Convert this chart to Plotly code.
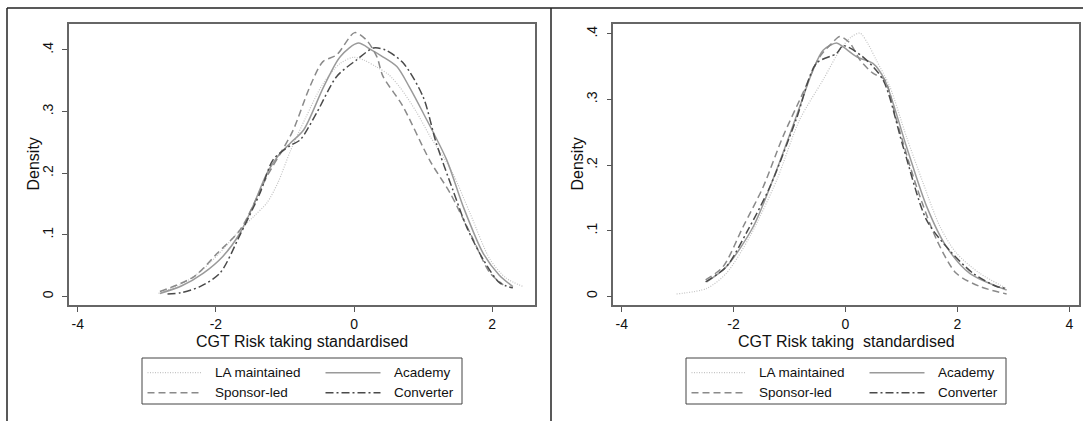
import plotly.graph_objects as go

# ---- density curves, left panel ----
la_l_x = [-2.83, -2.5, -2.23, -1.95, -1.65, -1.45, -1.26, -1.1, -0.925, -0.7, -0.45, -0.2, -0.01, 0.15, 0.33, 0.5, 0.66, 0.9, 1.10, 1.3, 1.43, 1.68, 1.97, 2.2, 2.45]
la_l_y = [0.005, 0.02, 0.04, 0.07, 0.108, 0.13, 0.152, 0.185, 0.235, 0.29, 0.345, 0.378, 0.388, 0.383, 0.372, 0.36, 0.34, 0.30, 0.26, 0.225, 0.20, 0.135, 0.06, 0.03, 0.016]

ac_l_x = [-2.81, -2.5, -2.18, -1.9, -1.65, -1.45, -1.26, -1.1, -0.92, -0.73, -0.44, -0.2, 0.06, 0.25, 0.4, 0.62, 0.8, 1.0, 1.34, 1.58, 1.87, 2.1, 2.30]
ac_l_y = [0.005, 0.017, 0.038, 0.065, 0.103, 0.15, 0.2, 0.228, 0.249, 0.27, 0.34, 0.389, 0.411, 0.40, 0.39, 0.373, 0.34, 0.298, 0.222, 0.146, 0.07, 0.035, 0.016]

sp_l_x = [-2.81, -2.32, -1.98, -1.65, -1.45, -1.26, -1.05, -0.88, -0.64, -0.45, -0.25, 0.01, 0.18, 0.33, 0.42, 0.7, 1.10, 1.39, 1.68, 1.97, 2.16]
sp_l_y = [0.008, 0.032, 0.07, 0.108, 0.15, 0.195, 0.235, 0.27, 0.34, 0.381, 0.392, 0.428, 0.416, 0.389, 0.357, 0.31, 0.22, 0.168, 0.103, 0.038, 0.019]

cv_l_x = [-2.7, -2.51, -2.23, -1.94, -1.65, -1.36, -1.17, -0.92, -0.78, -0.54, -0.25, 0.04, 0.28, 0.45, 0.71, 1.0, 1.19, 1.43, 1.63, 1.87, 2.11, 2.30]
cv_l_y = [0.004, 0.006, 0.016, 0.038, 0.1, 0.168, 0.222, 0.245, 0.254, 0.298, 0.357, 0.384, 0.403, 0.40, 0.379, 0.324, 0.249, 0.173, 0.113, 0.06, 0.022, 0.014]

# ---- density curves, right panel ----
la_r_x = [-3.02, -2.48, -2.13, -1.71, -1.23, -0.82, -0.40, -0.10, 0.1, 0.26, 0.4, 0.55, 0.79, 1.09, 1.39, 1.69, 1.98, 2.40, 2.88]
la_r_y = [0.0035, 0.012, 0.035, 0.091, 0.177, 0.269, 0.33, 0.375, 0.395, 0.401, 0.385, 0.36, 0.32, 0.243, 0.172, 0.106, 0.066, 0.035, 0.012]

ac_r_x = [-2.48, -2.13, -1.65, -1.23, -0.88, -0.58, -0.40, -0.16, -0.04, 0.2, 0.49, 0.70, 1.09, 1.45, 1.80, 2.22, 2.88]
ac_r_y = [0.022, 0.045, 0.106, 0.193, 0.274, 0.345, 0.375, 0.386, 0.38, 0.365, 0.355, 0.33, 0.228, 0.137, 0.076, 0.035, 0.0096]

sp_r_x = [-2.5, -2.19, -1.83, -1.47, -1.12, -0.76, -0.46, -0.25, -0.1, 0.08, 0.26, 0.49, 0.70, 0.91, 1.27, 1.63, 1.98, 2.40, 2.88]
sp_r_y = [0.025, 0.045, 0.106, 0.167, 0.243, 0.31, 0.365, 0.385, 0.396, 0.386, 0.36, 0.34, 0.33, 0.269, 0.167, 0.086, 0.035, 0.015, 0.0035]

cv_r_x = [-2.5, -2.13, -1.75, -1.35, -0.88, -0.52, -0.16, -0.04, 0.31, 0.67, 1.03, 1.45, 1.86, 2.28, 2.70, 2.88]
cv_r_y = [0.022, 0.045, 0.1, 0.167, 0.27, 0.355, 0.37, 0.382, 0.365, 0.33, 0.228, 0.116, 0.07, 0.035, 0.015, 0.012]

series_names = ["LA maintained", "Academy", "Sponsor-led", "Converter"]
x_title_left = "CGT Risk taking standardised"
x_title_right = "CGT Risk taking  standardised"
y_title = "Density"
y_tickvals = [0, 0.1, 0.2, 0.3, 0.4]
y_ticktext = ["0", ".1", ".2", ".3", ".4"]
x_ticks_left = [-4, -2, 0, 2]
x_ticks_right = [-4, -2, 0, 2, 4]

W, H = 1083, 421
FONT = "Liberation Sans, Arial, Helvetica, sans-serif"

styles = {
    "LA maintained": dict(color="#c4c4c4", width=1.2, dash="1px,1.5px"),
    "Academy": dict(color="#9a9a9a", width=1.5, dash="solid"),
    "Sponsor-led": dict(color="#8a8a8a", width=1.5, dash="7px,4px"),
    "Converter": dict(color="#4a4a4a", width=1.5, dash="8px,3px,2px,3px"),
}

left_data = [(la_l_x, la_l_y), (ac_l_x, ac_l_y), (sp_l_x, sp_l_y), (cv_l_x, cv_l_y)]
right_data = [(la_r_x, la_r_y), (ac_r_x, ac_r_y), (sp_r_x, sp_r_y), (cv_r_x, cv_r_y)]

fig = go.Figure()
for name, (xs, ys) in zip(series_names, left_data):
    fig.add_trace(go.Scatter(x=xs, y=ys, mode="lines", name=name, showlegend=False,
                             line=dict(shape="spline", smoothing=0.8, **styles[name]),
                             xaxis="x", yaxis="y"))
for name, (xs, ys) in zip(series_names, right_data):
    fig.add_trace(go.Scatter(x=xs, y=ys, mode="lines", name=name, showlegend=False,
                             line=dict(shape="spline", smoothing=0.8, **styles[name]),
                             xaxis="x2", yaxis="y2"))


def px(v):
    return v / W


def py(v):
    return 1 - v / H


axis_common = dict(showgrid=False, zeroline=False, ticks="outside", ticklen=5,
                   tickwidth=1.2, tickcolor="#555", showline=True, linecolor="#666",
                   linewidth=1.5, mirror=True,
                   tickfont=dict(family=FONT, size=14, color="#111"))

fig.update_layout(
    width=W, height=H, margin=dict(l=0, r=0, t=0, b=0),
    paper_bgcolor="white", plot_bgcolor="white",
    showlegend=False,
    xaxis=dict(domain=[px(69), px(535)], range=[-4.126, 2.62], anchor="y",
               tickvals=x_ticks_left, ticktext=[str(v) for v in x_ticks_left], **axis_common),
    yaxis=dict(domain=[py(305), py(24)], range=[-0.0138, 0.442], anchor="x",
               tickvals=y_tickvals, ticktext=y_ticktext, tickangle=-90,
               ticklabelstandoff=4, **axis_common),
    xaxis2=dict(domain=[px(613.3), px(1078.7)], range=[-4.15, 4.168], anchor="y2",
                tickvals=x_ticks_right, ticktext=[str(v) for v in x_ticks_right], **axis_common),
    yaxis2=dict(domain=[py(305), py(24)], range=[-0.0133, 0.415], anchor="x2",
                tickvals=y_tickvals, ticktext=y_ticktext, tickangle=-90,
                ticklabelstandoff=4, **axis_common),
)

annotations = []
shapes = []

# outer frame and panel divider
for (x0, y0, x1, y1) in [(7, 8, 1083, 8), (7, 8, 7, 421), (551, 8, 551, 421)]:
    shapes.append(dict(type="line", xref="paper", yref="paper",
                       x0=px(x0), y0=py(y0), x1=px(x1), y1=py(y1),
                       line=dict(color="#222", width=1.5)))

for panel_left, density_x, xt_center, xt_text in [
        (142, 33, 302, x_title_left), (686, 577, 846, x_title_right)]:
    annotations.append(dict(text=y_title, xref="paper", yref="paper",
                            x=px(density_x), y=py(164.5), textangle=-90, showarrow=False,
                            xanchor="center", yanchor="middle",
                            font=dict(family=FONT, size=16, color="#111")))
    annotations.append(dict(text=xt_text, xref="paper", yref="paper",
                            x=px(xt_center), y=py(341), showarrow=False,
                            xanchor="center", yanchor="middle",
                            font=dict(family=FONT, size=16, color="#111")))
    # legend box
    shapes.append(dict(type="rect", xref="paper", yref="paper",
                       x0=px(panel_left), x1=px(panel_left + 320),
                       y0=py(404), y1=py(358),
                       line=dict(color="#444", width=1), fillcolor="white"))
    entries = [("LA maintained", 0, 372.7), ("Academy", 1, 372.7),
               ("Sponsor-led", 0, 392.7), ("Converter", 1, 392.7)]
    for name, col, yy in entries:
        sx0 = panel_left + (5.5 if col == 0 else 183.5)
        shapes.append(dict(type="line", xref="paper", yref="paper",
                           x0=px(sx0), x1=px(sx0 + 55), y0=py(yy), y1=py(yy),
                           line=styles[name]))
        tx = panel_left + (71 if col == 0 else 250)
        annotations.append(dict(text=name, xref="paper", yref="paper",
                                x=px(tx), y=py(yy), showarrow=False,
                                xanchor="left", yanchor="middle",
                                font=dict(family=FONT, size=13.5, color="#111")))

fig.update_layout(annotations=annotations, shapes=shapes)
fig.write_html("out.html")
